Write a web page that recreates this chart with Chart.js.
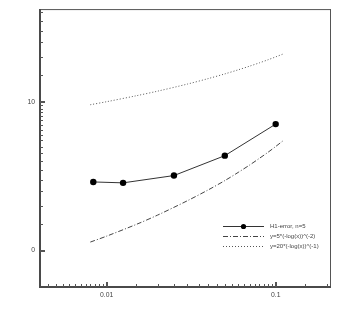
<!DOCTYPE html>
<html>
<head>
<meta charset="utf-8">
<script src="https://cdn.jsdelivr.net/npm/chart.js@4"></script>
<style>
  html, body { margin: 0; padding: 0; background: #fff; }
</style>
</head>
<body>
<canvas id="chart" width="339" height="327"></canvas>
<script>
// mesh size h and H1 error
const hValues = [0.00833, 0.0125, 0.025, 0.05, 0.1];
const errValues = [2.89, 2.85, 3.19, 4.34, 7.07];

// reference curves
const refX = [0.008, 0.01, 0.015, 0.02, 0.03, 0.04, 0.05, 0.06, 0.07, 0.08, 0.09, 0.1, 0.11];
const refA = [1.14, 1.25, 1.50, 1.73, 2.16, 2.56, 2.95, 3.35, 3.75, 4.16, 4.57, 5.00, 5.44];
const refB = [9.54, 10.0, 10.97, 11.77, 13.13, 14.31, 15.37, 16.37, 17.32, 18.23, 19.12, 20.0, 20.86];

const seriesLabels = ["H1-error, n=5", "y=5*(-log(x))^(-2)", "y=20*(-log(x))^(-1)"];

// axis ticks
const xMajor = [0.01, 0.1];
const xLabels = ["0.01", "0.1"];
const yMajor = [1, 10];
const yLabels = ["0", "10"];

const xMinor = [];
[0.001, 0.01, 0.1].forEach(d => {
  for (let k = 1.5; k < 10; k += 0.5) xMinor.push(d * k);
});
const yMinor = [];
[1, 10].forEach(d => {
  for (let k = 1.5; k < 10; k += 0.5) yMinor.push(d * k);
});

const axisFont = { family: "Liberation Sans", size: 6.8 };

// box + inward tick marks
const frame = {
  id: "frame",
  afterDraw(chart) {
    const { ctx, chartArea: a, scales } = chart;
    ctx.save();
    ctx.strokeStyle = "#555";
    ctx.lineWidth = 1;
    ctx.beginPath();
    ctx.moveTo(a.left, a.top + 0.5); ctx.lineTo(a.right, a.top + 0.5);
    ctx.moveTo(a.right - 0.5, a.top); ctx.lineTo(a.right - 0.5, a.bottom);
    ctx.stroke();
    ctx.lineWidth = 2;
    ctx.strokeStyle = "#4a4a4a";
    ctx.beginPath();
    ctx.moveTo(a.left, a.top); ctx.lineTo(a.left, a.bottom);
    ctx.lineTo(a.right, a.bottom);
    ctx.stroke();

    ctx.lineWidth = 1;
    ctx.strokeStyle = "#555";
    ctx.beginPath();
    xMinor.forEach(v => {
      if (v <= scales.x.min || v >= scales.x.max) return;
      const px = Math.round(scales.x.getPixelForValue(v)) + 0.5;
      ctx.moveTo(px, a.bottom); ctx.lineTo(px, a.bottom - 3);
    });
    yMinor.forEach(v => {
      if (v <= scales.y.min || v >= scales.y.max) return;
      const py = Math.round(scales.y.getPixelForValue(v)) + 0.5;
      ctx.moveTo(a.left, py); ctx.lineTo(a.left + 3, py);
    });
    ctx.stroke();
    ctx.lineWidth = 2;
    ctx.beginPath();
    xMajor.forEach(v => {
      const px = Math.round(scales.x.getPixelForValue(v));
      ctx.moveTo(px, a.bottom); ctx.lineTo(px, a.bottom - 5);
    });
    yMajor.forEach(v => {
      const py = Math.round(scales.y.getPixelForValue(v));
      ctx.moveTo(a.left, py); ctx.lineTo(a.left + 5, py);
    });
    ctx.stroke();
    ctx.restore();
  }
};

// legend in the lower right corner of the plot
const boxLegend = {
  id: "boxLegend",
  afterDraw(chart) {
    const { ctx, chartArea: a } = chart;
    const x0 = a.right - 108, x1 = a.right - 67, tx = a.right - 61;
    ctx.save();
    ctx.font = "6px 'Liberation Sans'";
    ctx.textBaseline = "middle";
    chart.data.datasets.forEach((ds, i) => {
      const y = a.bottom - 61 + i * 10 + 0.5;
      ctx.strokeStyle = ds.borderColor;
      ctx.lineWidth = ds.borderWidth;
      ctx.setLineDash(ds.borderDash || []);
      ctx.beginPath();
      ctx.moveTo(x0, y); ctx.lineTo(x1, y);
      ctx.stroke();
      ctx.setLineDash([]);
      if (ds.pointRadius > 0) {
        ctx.fillStyle = ds.pointBackgroundColor;
        ctx.beginPath();
        ctx.arc((x0 + x1) / 2, y, 2.6, 0, Math.PI * 2);
        ctx.fill();
      }
      ctx.fillStyle = "#444";
      ctx.fillText(ds.label, tx, y);
    });
    ctx.restore();
  }
};

new Chart(document.getElementById("chart"), {
  type: "line",
  data: {
    datasets: [
      {
        label: seriesLabels[0],
        data: hValues.map((h, i) => ({ x: h, y: errValues[i] })),
        borderColor: "#333",
        borderWidth: 1,
        pointRadius: 3.2,
        pointBackgroundColor: "#000",
        pointBorderColor: "#000",
        pointBorderWidth: 0,
        tension: 0
      },
      {
        label: seriesLabels[1],
        data: refX.map((x, i) => ({ x: x, y: refA[i] })),
        borderColor: "#444",
        borderWidth: 1,
        borderDash: [5, 2, 1, 2],
        pointRadius: 0,
        tension: 0.3
      },
      {
        label: seriesLabels[2],
        data: refX.map((x, i) => ({ x: x, y: refB[i] })),
        borderColor: "#555",
        borderWidth: 1,
        borderDash: [1, 2],
        pointRadius: 0,
        tension: 0.3
      }
    ]
  },
  options: {
    responsive: false,
    animation: false,
    layout: { padding: { top: 5, right: 8, left: 0, bottom: 0 } },
    plugins: { legend: { display: false }, tooltip: { enabled: false } },
    scales: {
      x: {
        type: "logarithmic",
        min: 0.00403,
        max: 0.2125,
        afterBuildTicks: s => { s.ticks = xMajor.map(v => ({ value: v })); },
        afterFit: s => { s.height = 40; },
        grid: { display: false, drawTicks: false },
        border: { display: false },
        ticks: {
          callback: (v, i) => xLabels[i],
          font: axisFont,
          color: "#444",
          padding: 4,
          maxRotation: 0,
          autoSkip: false
        }
      },
      y: {
        type: "logarithmic",
        min: 0.569,
        max: 41.9,
        afterBuildTicks: s => { s.ticks = yMajor.map(v => ({ value: v })); },
        afterFit: s => { s.width = 40; },
        grid: { display: false, drawTicks: false },
        border: { display: false },
        ticks: {
          callback: (v, i) => yLabels[i],
          font: axisFont,
          color: "#444",
          padding: 5,
          autoSkip: false
        }
      }
    }
  },
  plugins: [frame, boxLegend]
});
</script>
</body>
</html>
